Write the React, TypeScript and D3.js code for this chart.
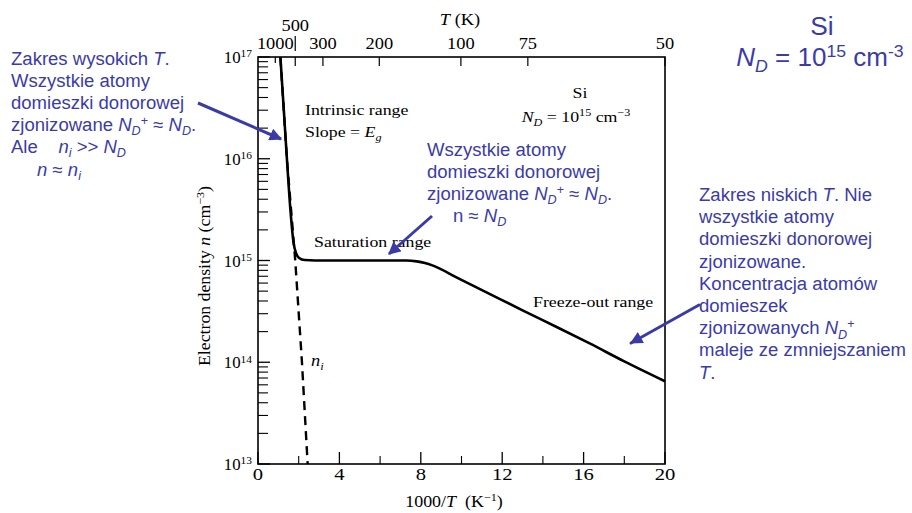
import React from "react";
import * as d3 from "d3";

// n(T) curve, solid (x = 1000/T, value = electron density in cm^-3)
const nX = [1.1, 1.26, 1.42, 1.59, 1.75, 1.87, 2.02, 2.3, 2.8, 4, 6, 7.3, 7.8, 8.2, 8.6, 9.8, 11.4, 13.05, 14.7, 16.3, 18.0, 20];
const nVal = [1e17, 3.2e16, 1e16, 3.2e15, 1.48e15, 1.18e15, 1.06e15, 1.01e15, 1.0e15, 1.0e15, 1.0e15, 1.0e15, 0.98e15, 9.45e14, 8.9e14, 6.76e14, 4.68e14, 3.2e14, 2.21e14, 1.53e14, 1.02e14, 6.5e13];

// intrinsic density n_i, dashed
const niX = [1.1, 1.42, 1.83, 2.16, 2.44];
const niVal = [1e17, 1e16, 1e15, 1e14, 1e13];

// bottom axis
const xMajor = [0, 4, 8, 12, 16, 20];
const xMinor = [2, 6, 10, 14, 18];

// top axis: T (K) labels and where they sit on the 1000/T scale
const topLabels = ["1000", "500", "300", "200", "100", "75", "50"];
const topPos = [0.85, 1.83, 3.19, 5.96, 9.97, 13.26, 20];

// left axis decades
const yDecades = [13, 14, 15, 16, 17];

const W = 912;
const H = 513;
const BLUE = "#3B3BA8";
const SERIF = "'Liberation Serif', 'Times New Roman', serif";
const SANS = "'Liberation Sans', Arial, sans-serif";
const SX = 1.15; // the scanned figure's type is set wide

type Seg = { t: string; it?: boolean; sub?: boolean; sup?: boolean };

function Rich({ x, y, segs, size, anchor = "start", fill = "#000", family = SERIF, sx = 1, rotate = 0 }: any) {
  let cur = 0;
  return (
    <g transform={`translate(${x},${y}) rotate(${rotate}) scale(${sx},1)`}>
      <text x={0} y={0} fontSize={size} textAnchor={anchor} fill={fill} fontFamily={family} style={{ whiteSpace: "pre" }}>
        {segs.map((s: Seg, i: number) => {
          const target = s.sub ? size * 0.24 : s.sup ? -size * 0.36 : 0;
          const dy = target - cur;
          cur = target;
          return (
            <tspan key={i} dy={dy} fontStyle={s.it ? "italic" : "normal"} fontSize={s.sub || s.sup ? size * 0.68 : size}>
              {s.t}
            </tspan>
          );
        })}
      </text>
    </g>
  );
}

function Lines({ x, y, lh, lines, size, fill, family, sx }: any) {
  return (
    <g>
      {lines.map((segs: Seg[], i: number) => (
        <Rich key={i} x={x} y={y + i * lh} segs={segs} size={size} fill={fill} family={family} sx={sx} />
      ))}
    </g>
  );
}

export default function App() {
  const x = d3.scaleLinear().domain([0, 20]).range([258, 665]);
  const y = d3.scaleLog().domain([1e13, 1e17]).range([464, 57]);
  const x0 = x.range()[0];
  const x1 = x.range()[1];
  const yB = y.range()[0];
  const yT = y.range()[1];

  const line = d3
    .line<number>()
    .x((_, i) => x(nX[i]))
    .y((d) => y(d))
    .curve(d3.curveMonotoneX);
  const niLine = d3
    .line<number>()
    .x((_, i) => x(niX[i]))
    .y((d) => y(d));

  const yMinor: number[] = [];
  yDecades.slice(0, -1).forEach((e) => {
    for (let k = 2; k <= 9; k++) yMinor.push(k * Math.pow(10, e));
  });

  const leftNote: Seg[][] = [
    [{ t: "Zakres wysokich " }, { t: "T", it: true }, { t: "." }],
    [{ t: "Wszystkie atomy" }],
    [{ t: "domieszki donorowej" }],
    [{ t: "zjonizowane " }, { t: "N", it: true }, { t: "D", it: true, sub: true }, { t: "+", sup: true }, { t: " ≈ " }, { t: "N", it: true }, { t: "D", it: true, sub: true }, { t: "." }],
    [{ t: "Ale    " }, { t: "n", it: true }, { t: "i", it: true, sub: true }, { t: " >> " }, { t: "N", it: true }, { t: "D", it: true, sub: true }],
  ];
  const midNote: Seg[][] = [
    [{ t: "Wszystkie atomy" }],
    [{ t: "domieszki donorowej" }],
    [{ t: "zjonizowane " }, { t: "N", it: true }, { t: "D", it: true, sub: true }, { t: "+", sup: true }, { t: " ≈ " }, { t: "N", it: true }, { t: "D", it: true, sub: true }, { t: "." }],
  ];
  const rightNote: Seg[][] = [
    [{ t: "Zakres niskich " }, { t: "T", it: true }, { t: ". Nie" }],
    [{ t: "wszystkie atomy" }],
    [{ t: "domieszki donorowej" }],
    [{ t: "zjonizowane." }],
    [{ t: "Koncentracja atomów" }],
    [{ t: "domieszek" }],
    [{ t: "zjonizowanych " }, { t: "N", it: true }, { t: "D", it: true, sub: true }, { t: "+", sup: true }],
    [{ t: "maleje ze zmniejszaniem" }],
    [{ t: "T", it: true }, { t: "." }],
  ];

  return (
    <svg width={W} height={H} style={{ position: "absolute", left: 0, top: 0, background: "#fff" }}>
      <defs>
        <marker id="ah" viewBox="0 0 10 10" refX="9" refY="5" markerWidth="4.2" markerHeight="4.2" orient="auto">
          <path d="M0,0 L10,5 L0,10 z" fill={BLUE} />
        </marker>
      </defs>

      {/* frame */}
      <rect x={x0} y={yT} width={x1 - x0} height={yB - yT} fill="none" stroke="#000" strokeWidth={1.6} />

      {/* left ticks */}
      {yDecades.map((e) => (
        <line key={"yM" + e} x1={x0} x2={x0 + 12} y1={y(Math.pow(10, e))} y2={y(Math.pow(10, e))} stroke="#000" strokeWidth={1.3} />
      ))}
      {yMinor.map((v, i) => (
        <line key={"ym" + i} x1={x0} x2={x0 + 10} y1={y(v)} y2={y(v)} stroke="#000" strokeWidth={1.1} />
      ))}
      {yDecades.map((e) => (
        <Rich key={"yl" + e} x={252} y={y(Math.pow(10, e)) + 6} anchor="end" size={16} sx={1.05} segs={[{ t: "10" }, { t: String(e), sup: true }]} />
      ))}

      {/* bottom ticks */}
      {xMajor.map((v) => (
        <g key={"xM" + v}>
          <line x1={x(v)} x2={x(v)} y1={yB} y2={yB - 12} stroke="#000" strokeWidth={1.3} />
          <Rich x={x(v)} y={480} anchor="middle" size={16.5} sx={1.25} segs={[{ t: String(v) }]} />
        </g>
      ))}
      {xMinor.map((v) => (
        <line key={"xm" + v} x1={x(v)} x2={x(v)} y1={yB} y2={yB - 8} stroke="#000" strokeWidth={1.1} />
      ))}

      {/* top ticks, T in K */}
      {topLabels.map((lab, i) => {
        const px = x(topPos[i]);
        const up = lab === "500";
        return (
          <g key={"t" + lab}>
            <line x1={px} x2={px} y1={yT} y2={yT + (lab === "1000" ? 6 : 9)} stroke="#000" strokeWidth={1.2} />
            {up && <line x1={px} x2={px} y1={yT - 21} y2={yT - 6} stroke="#000" strokeWidth={1.2} />}
            <Rich x={px} y={up ? 31 : 49} anchor="middle" size={16} sx={SX} segs={[{ t: lab }]} />
          </g>
        );
      })}
      <Rich x={460} y={25} anchor="middle" size={16} sx={SX} segs={[{ t: "T", it: true }, { t: " (K)" }]} />

      {/* axis titles */}
      <Rich x={454} y={507} anchor="middle" size={16} sx={1.12} segs={[{ t: "1000/" }, { t: "T", it: true }, { t: "  (K" }, { t: "−1", sup: true }, { t: ")" }]} />
      <Rich
        x={210}
        y={276}
        rotate={-90}
        anchor="middle"
        size={16}
        sx={1.11}
        segs={[{ t: "Electron density " }, { t: "n", it: true }, { t: " (cm" }, { t: "−3", sup: true }, { t: ")" }]}
      />

      {/* curves */}
      <path d={niLine(niVal) || ""} fill="none" stroke="#000" strokeWidth={2.4} strokeDasharray="9,6" />
      <path d={line(nVal) || ""} fill="none" stroke="#000" strokeWidth={2.6} strokeLinejoin="round" />

      {/* in-plot labels */}
      <Rich x={305} y={115} size={15.5} sx={SX} segs={[{ t: "Intrinsic range" }]} />
      <Rich x={305} y={137} size={15.5} sx={SX} segs={[{ t: "Slope = " }, { t: "E", it: true }, { t: "g", it: true, sub: true }]} />
      <Rich x={314} y={247} size={15.5} sx={SX} segs={[{ t: "Saturation range" }]} />
      <Rich x={533} y={307} size={15.5} sx={SX} segs={[{ t: "Freeze-out range" }]} />
      <Rich x={580} y={98} anchor="middle" size={15.5} sx={SX} segs={[{ t: "Si" }]} />
      <Rich x={576} y={122} anchor="middle" size={15.5} sx={SX} segs={[{ t: "N", it: true }, { t: "D", it: true, sub: true }, { t: " = 10" }, { t: "15", sup: true }, { t: " cm" }, { t: "−3", sup: true }]} />
      <Rich x={311} y={366} size={16} sx={SX} segs={[{ t: "n", it: true }, { t: "i", it: true, sub: true }]} />

      {/* blue annotations */}
      <Lines x={11} y={65} lh={22} lines={leftNote} size={18} sx={1.03} fill={BLUE} family={SANS} />
      <Rich x={37} y={176} size={18} sx={1.03} fill={BLUE} family={SANS} segs={[{ t: "n", it: true }, { t: " ≈ " }, { t: "n", it: true }, { t: "i", it: true, sub: true }]} />
      <Lines x={427} y={156} lh={22} lines={midNote} size={18} sx={1.03} fill={BLUE} family={SANS} />
      <Rich x={453} y={222} size={18} sx={1.03} fill={BLUE} family={SANS} segs={[{ t: "n ≈ " }, { t: "N", it: true }, { t: "D", it: true, sub: true }]} />
      <Lines x={699} y={201} lh={22.2} lines={rightNote} size={18} sx={1.03} fill={BLUE} family={SANS} />

      <Rich x={822} y={35} anchor="middle" size={25} sx={1.05} fill={BLUE} family={SANS} segs={[{ t: "Si" }]} />
      <Rich x={820} y={66} anchor="middle" size={25} sx={1.04} fill={BLUE} family={SANS} segs={[{ t: "N", it: true }, { t: "D", it: true, sub: true }, { t: " = 10" }, { t: "15", sup: true }, { t: " cm" }, { t: "-3", sup: true }]} />

      {/* arrows */}
      <line x1={198} y1={103} x2={281} y2={139} stroke={BLUE} strokeWidth={3} markerEnd="url(#ah)" />
      <line x1={432} y1={216} x2={389} y2={254} stroke={BLUE} strokeWidth={3} markerEnd="url(#ah)" />
      <line x1={699} y1={305} x2={631} y2={343} stroke={BLUE} strokeWidth={3} strokeLinecap="round" markerEnd="url(#ah)" />
    </svg>
  );
}
